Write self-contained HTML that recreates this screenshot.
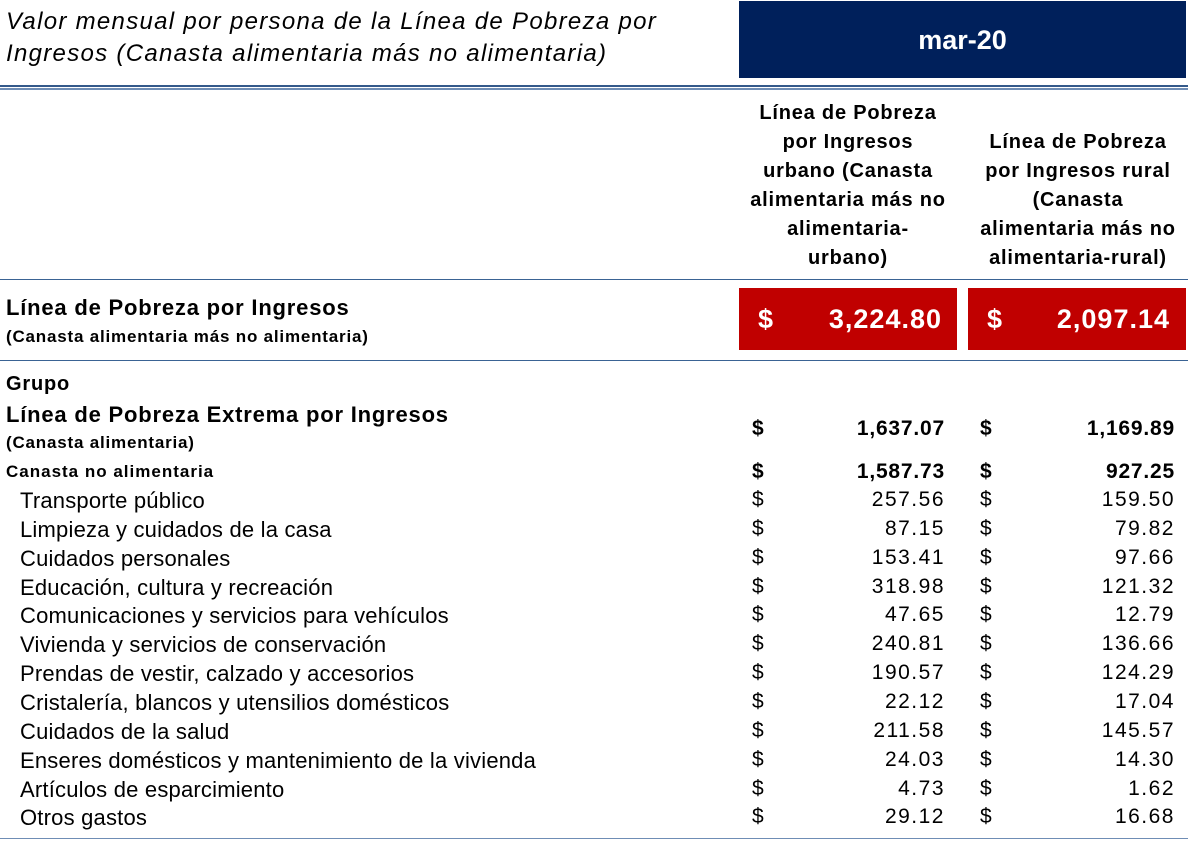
<!DOCTYPE html>
<html><head><meta charset="utf-8"><style>
body{margin:0;width:1188px;height:841px;background:#fff;position:relative;overflow:hidden;font-family:"Liberation Sans",Arial,sans-serif;color:#000}
div{position:absolute;white-space:nowrap}
.t{font-size:24px;font-style:italic;left:6px;letter-spacing:1.3px}
.h{font-size:20px;text-align:center;line-height:29px;letter-spacing:0.8px;font-weight:bold}
.r{font-size:22px;left:20px;letter-spacing:0.2px}
.d1{left:752px;font-size:21px}
.d2{left:980px;font-size:21px}
.n1{right:243px;font-size:21px;text-align:right;letter-spacing:1.5px}
.n2{right:13px;font-size:21px;text-align:right;letter-spacing:1.5px}
.b{font-weight:bold}
.nb{letter-spacing:0.8px}
.line{height:1px;background:#3a6394;left:0;width:1188px}
</style></head><body>
<div class="t" style="top:8px">Valor mensual por persona de la Línea de Pobreza por</div>
<div class="t" style="top:40px">Ingresos (Canasta alimentaria más no alimentaria)</div>
<div style="left:739px;top:1px;width:447px;height:77px;background:#00205b;color:#fff;font-size:27px;font-weight:bold;text-align:center;line-height:78px">mar-20</div>
<div class="line" style="top:85px;height:2px;background:#34598a"></div>
<div class="line" style="top:88px;height:2px;background:#6f8db5"></div>
<div class="h" style="left:740px;width:216px;top:99px">Línea de Pobreza<br>por Ingresos<br>urbano (Canasta<br>alimentaria más no<br>alimentaria-<br>urbano)</div>
<div class="h" style="left:968px;width:220px;top:128px">Línea de Pobreza<br>por Ingresos rural<br>(Canasta<br>alimentaria más no<br>alimentaria-rural)</div>
<div class="line" style="top:279px"></div>
<div class="b" style="left:6px;top:295px;font-size:22px;letter-spacing:0.8px">Línea de Pobreza por Ingresos</div>
<div class="b" style="left:6px;top:327px;font-size:17px;letter-spacing:0.8px">(Canasta alimentaria más no alimentaria)</div>
<div style="left:739px;top:288px;width:218px;height:62px;background:#c00000"></div>
<div style="left:968px;top:288px;width:218px;height:62px;background:#c00000"></div>
<div class="b" style="left:758px;top:304px;font-size:27px;color:#fff">$</div>
<div class="b" style="right:246px;top:304px;font-size:27px;color:#fff;letter-spacing:1px">3,224.80</div>
<div class="b" style="left:987px;top:304px;font-size:27px;color:#fff">$</div>
<div class="b" style="right:18px;top:304px;font-size:27px;color:#fff;letter-spacing:1px">2,097.14</div>
<div class="line" style="top:360px"></div>
<div class="b" style="left:6px;top:373px;font-size:20px;letter-spacing:0.8px">Grupo</div>
<div class="b" style="left:6px;top:402px;font-size:22px;letter-spacing:0.8px">Línea de Pobreza Extrema por Ingresos</div>
<div class="b" style="left:6px;top:433px;font-size:17px;letter-spacing:0.8px">(Canasta alimentaria)</div>
<div class="b d1" style="top:417px">$</div><div class="b n1 nb" style="top:417px">1,637.07</div>
<div class="b d2" style="top:417px">$</div><div class="b n2 nb" style="top:417px">1,169.89</div>
<div class="b" style="left:6px;top:462px;font-size:17px;letter-spacing:1px">Canasta no alimentaria</div>
<div class="b d1" style="top:460px">$</div><div class="b n1 nb" style="top:460px">1,587.73</div>
<div class="b d2" style="top:460px">$</div><div class="b n2 nb" style="top:460px">927.25</div>
<div class="r" style="top:488px">Transporte público</div><div class="d1" style="top:488px">$</div><div class="n1" style="top:488px">257.56</div><div class="d2" style="top:488px">$</div><div class="n2" style="top:488px">159.50</div>
<div class="r" style="top:517px">Limpieza y cuidados de la casa</div><div class="d1" style="top:517px">$</div><div class="n1" style="top:517px">87.15</div><div class="d2" style="top:517px">$</div><div class="n2" style="top:517px">79.82</div>
<div class="r" style="top:546px">Cuidados personales</div><div class="d1" style="top:546px">$</div><div class="n1" style="top:546px">153.41</div><div class="d2" style="top:546px">$</div><div class="n2" style="top:546px">97.66</div>
<div class="r" style="top:575px">Educación, cultura y recreación</div><div class="d1" style="top:575px">$</div><div class="n1" style="top:575px">318.98</div><div class="d2" style="top:575px">$</div><div class="n2" style="top:575px">121.32</div>
<div class="r" style="top:603px">Comunicaciones y servicios para vehículos</div><div class="d1" style="top:603px">$</div><div class="n1" style="top:603px">47.65</div><div class="d2" style="top:603px">$</div><div class="n2" style="top:603px">12.79</div>
<div class="r" style="top:632px">Vivienda y servicios de conservación</div><div class="d1" style="top:632px">$</div><div class="n1" style="top:632px">240.81</div><div class="d2" style="top:632px">$</div><div class="n2" style="top:632px">136.66</div>
<div class="r" style="top:661px">Prendas de vestir, calzado y accesorios</div><div class="d1" style="top:661px">$</div><div class="n1" style="top:661px">190.57</div><div class="d2" style="top:661px">$</div><div class="n2" style="top:661px">124.29</div>
<div class="r" style="top:690px">Cristalería, blancos y utensilios domésticos</div><div class="d1" style="top:690px">$</div><div class="n1" style="top:690px">22.12</div><div class="d2" style="top:690px">$</div><div class="n2" style="top:690px">17.04</div>
<div class="r" style="top:719px">Cuidados de la salud</div><div class="d1" style="top:719px">$</div><div class="n1" style="top:719px">211.58</div><div class="d2" style="top:719px">$</div><div class="n2" style="top:719px">145.57</div>
<div class="r" style="top:748px">Enseres domésticos y mantenimiento de la vivienda</div><div class="d1" style="top:748px">$</div><div class="n1" style="top:748px">24.03</div><div class="d2" style="top:748px">$</div><div class="n2" style="top:748px">14.30</div>
<div class="r" style="top:777px">Artículos de esparcimiento</div><div class="d1" style="top:777px">$</div><div class="n1" style="top:777px">4.73</div><div class="d2" style="top:777px">$</div><div class="n2" style="top:777px">1.62</div>
<div class="r" style="top:805px">Otros gastos</div><div class="d1" style="top:805px">$</div><div class="n1" style="top:805px">29.12</div><div class="d2" style="top:805px">$</div><div class="n2" style="top:805px">16.68</div>
<div class="line" style="top:838px;background:#6f8db5"></div>
</body></html>
